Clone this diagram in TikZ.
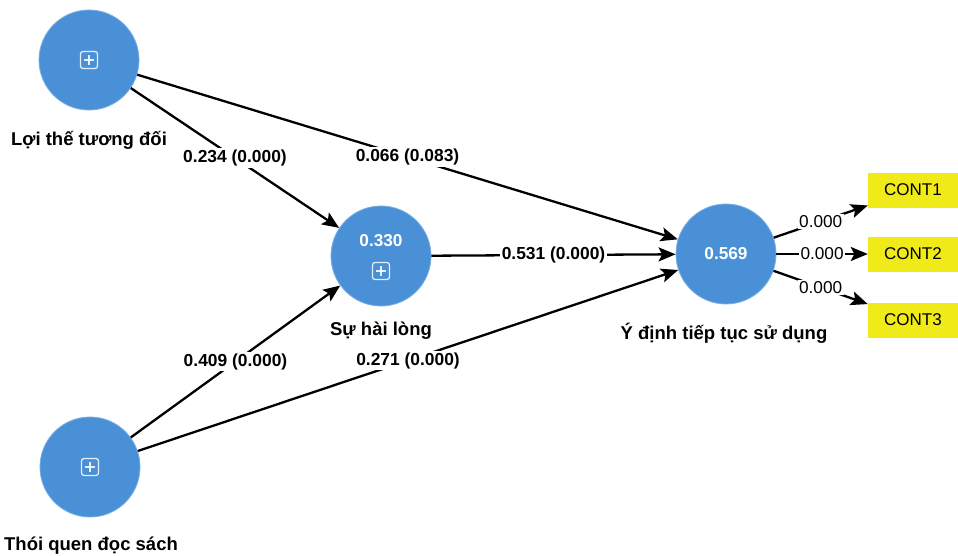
\documentclass[tikz,border=0pt]{standalone}
\usepackage{fontspec}
\setmainfont{Liberation Sans}
\usetikzlibrary{arrows.meta}
\definecolor{lvblue}{RGB}{74,144,214}
\definecolor{lvedge}{RGB}{120,175,228}
\definecolor{indyellow}{RGB}{240,234,24}
\tikzset{
  latent/.style={circle, minimum size=100pt, inner sep=0pt, fill=lvblue, draw=lvedge, line width=0.8pt},
  indbox/.style={rectangle, minimum width=90pt, minimum height=35pt, inner sep=0pt, fill=indyellow, font=\fontsize{17}{19}\selectfont},
  namelbl/.style={font=\bfseries\fontsize{18.5}{20}\selectfont},
  vallbl/.style={text=white, font=\bfseries\fontsize{17.2}{19}\selectfont, inner sep=0pt},
  iconbox/.style={rectangle, rounded corners=2.5pt, minimum size=17pt, inner sep=0pt, draw=white, draw opacity=0.85, line width=1.3pt,
    path picture={\draw[white, opacity=0.85, line width=1.3pt] ([xshift=-5pt]path picture bounding box.center) -- ([xshift=5pt]path picture bounding box.center);
                  \draw[white, opacity=0.85, line width=1.3pt] ([yshift=-5pt]path picture bounding box.center) -- ([yshift=5pt]path picture bounding box.center);}},
  conn/.style={draw=black, line width=2.3pt, -{Stealth[length=17pt, width=14pt, inset=3.5pt]}},
  coeff/.style={fill=white, inner sep=1.5pt, font=\bfseries\fontsize{17.4}{19}\selectfont},
  load/.style={fill=white, inner sep=1.5pt, font=\fontsize{17.2}{19}\selectfont},
}
\begin{document}
\begin{tikzpicture}[x=1pt, y=-1pt]
\useasboundingbox[fill=white] (0,0) rectangle (958,555);
% latent variables
\node[latent] (lt) at (89,60) {};
\node[latent] (hl) at (381,256) {};
\node[latent] (yd) at (726,254) {};
\node[latent] (tq) at (90,467) {};
% icons and values
\node[iconbox] (lticon) at (89,60) {};
\node[iconbox] (tqicon) at (90,467) {};
\node[iconbox] (hlicon) at (381,271) {};
\node[vallbl] (hlval) at (381,241) {0.330};
\node[vallbl] (ydval) at (726,254) {0.569};
% names
\node[namelbl] (ltname) at (89,140) {Lợi thế tương đối};
\node[namelbl] (hlname) at (381,331) {Sự hài lòng};
\node[namelbl] (ydname) at (724,333) {Ý định tiếp tục sử dụng};
\node[namelbl] (tqname) at (91,546) {Thói quen đọc sách};
% indicators
\node[indbox] (c1) at (913,190) {CONT1};
\node[indbox] (c2) at (913,254) {CONT2};
\node[indbox] (c3) at (913,320) {CONT3};
% structural paths
\draw[conn] (lt) -- node[coeff] {0.234 (0.000)} (hl);
\draw[conn] (lt) -- node[coeff] {0.066 (0.083)} (yd);
\draw[conn] (tq) -- node[coeff] {0.409 (0.000)} (hl);
\draw[conn] (tq) -- node[coeff] {0.271 (0.000)} (yd);
\draw[conn] (hl) -- node[coeff] {0.531 (0.000)} (yd);
% outer loadings
\draw[conn] (yd) -- node[load] {0.000} (c1);
\draw[conn] (yd) -- node[load] {0.000} (c2);
\draw[conn] (yd) -- node[load] {0.000} (c3);
\end{tikzpicture}
\end{document}
